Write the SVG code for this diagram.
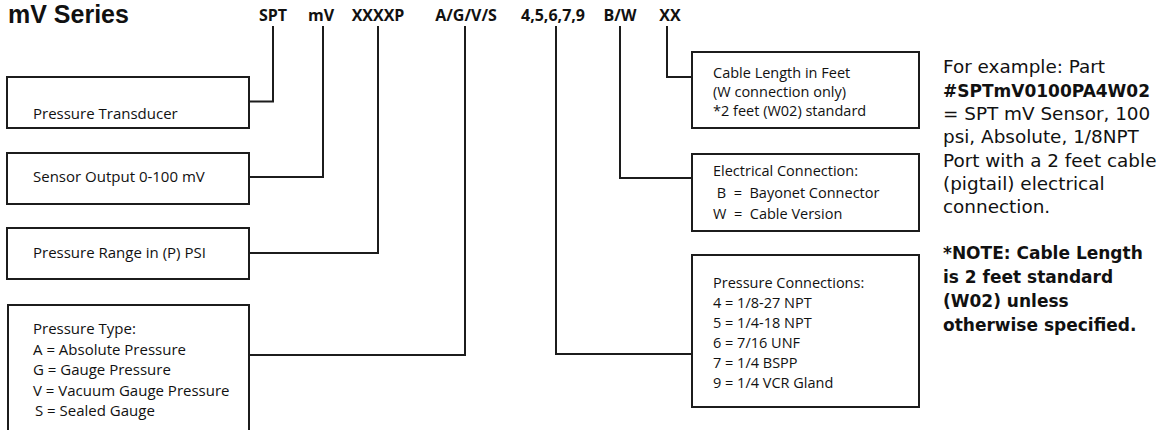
<svg xmlns="http://www.w3.org/2000/svg" width="1166" height="430" viewBox="0 0 1166 430">
<style>
.box{fill:#fff;stroke:#1c1c1c;stroke-width:2}
.conn{fill:none;stroke:#1c1c1c;stroke-width:2}
text{font-family:"Open Sans","Noto Sans","DejaVu Sans",sans-serif;fill:#111}
.title{font-family:"Liberation Sans",Arial,sans-serif;font-size:25px;font-weight:bold}
.code{font-size:16px;font-weight:bold;text-anchor:middle}
.lbl{font-size:15px}
.rlbl{font-size:14.5px}
.note{font-family:"DejaVu Sans","Open Sans",sans-serif;font-size:18.4px}
.b{font-weight:bold;font-size:17px}
</style>
<rect width="1166" height="430" fill="#fff"/>
<text class="title" x="8" y="23.2">mV Series</text>
<g id="codes">
<text class="code" x="273" y="21">SPT</text>
<text class="code" x="321" y="21">mV</text>
<text class="code" x="378" y="21">XXXXP</text>
<text class="code" x="466" y="21">A/G/V/S</text>
<text class="code" x="553" y="21">4,5,6,7,9</text>
<text class="code" x="620" y="21">B/W</text>
<text class="code" x="670" y="21">XX</text>
</g>
<g id="connectors">
<path class="conn" d="M273,26V101.5H249"/>
<path class="conn" d="M323,26V177H249"/>
<path class="conn" d="M378,26V253H249"/>
<path class="conn" d="M465,26V355H249"/>
<path class="conn" d="M556,26V354H692"/>
<path class="conn" d="M620,26V178H692"/>
<path class="conn" d="M667,26V77H692"/>
</g>
<g id="node-transducer">
<rect class="box" x="7" y="77" width="242" height="51"/>
<text class="lbl" x="33" y="119">Pressure Transducer</text>
</g>
<g id="node-output">
<rect class="box" x="7" y="153" width="242" height="51"/>
<text class="lbl" x="33" y="182">Sensor Output 0-100 mV</text>
</g>
<g id="node-range">
<rect class="box" x="7" y="228" width="242" height="51"/>
<text class="lbl" x="33" y="258">Pressure Range in (P) PSI</text>
</g>
<g id="node-type">
<rect class="box" x="8" y="305" width="241" height="140"/>
<text class="lbl" x="33" y="334">Pressure Type:</text>
<text class="lbl" x="33" y="355">A = Absolute Pressure</text>
<text class="lbl" x="33" y="375">G = Gauge Pressure</text>
<text class="lbl" x="33" y="396">V = Vacuum Gauge Pressure</text>
<text class="lbl" x="35" y="416">S = Sealed Gauge</text>
</g>
<g id="node-cable">
<rect class="box" x="692" y="52" width="227" height="76"/>
<text class="rlbl" x="713" y="78">Cable Length in Feet</text>
<text class="rlbl" x="713" y="97">(W connection only)</text>
<text class="rlbl" x="713" y="116">*2 feet (W02) standard</text>
</g>
<g id="node-electrical">
<rect class="box" x="692" y="154" width="227" height="77"/>
<text class="rlbl" x="713" y="176">Electrical Connection:</text>
<text class="rlbl" x="713" y="198" xml:space="preserve"> B  =  Bayonet Connector</text>
<text class="rlbl" x="713" y="219" xml:space="preserve">W  =  Cable Version</text>
</g>
<g id="node-connections">
<rect class="box" x="692" y="255" width="227" height="152"/>
<text class="rlbl" x="713" y="288">Pressure Connections:</text>
<text class="rlbl" x="713" y="308">4 = 1/8-27 NPT</text>
<text class="rlbl" x="713" y="328">5 = 1/4-18 NPT</text>
<text class="rlbl" x="713" y="348">6 = 7/16 UNF</text>
<text class="rlbl" x="713" y="368">7 = 1/4 BSPP</text>
<text class="rlbl" x="713" y="388">9 = 1/4 VCR Gland</text>
</g>
<g id="example">
<text class="note" x="943" y="73">For example: Part</text>
<text class="note b" x="943" y="97">#SPTmV0100PA4W02</text>
<text class="note" x="943" y="120">= SPT mV Sensor, 100</text>
<text class="note" x="943" y="143">psi, Absolute, 1/8NPT</text>
<text class="note" x="943" y="167">Port with a 2 feet cable</text>
<text class="note" x="943" y="190">(pigtail) electrical</text>
<text class="note" x="943" y="213">connection.</text>
</g>
<g id="note">
<text class="note b" x="943" y="259">*NOTE: Cable Length</text>
<text class="note b" x="943" y="283">is 2 feet standard</text>
<text class="note b" x="943" y="307">(W02) unless</text>
<text class="note b" x="943" y="331">otherwise specified.</text>
</g>
</svg>
